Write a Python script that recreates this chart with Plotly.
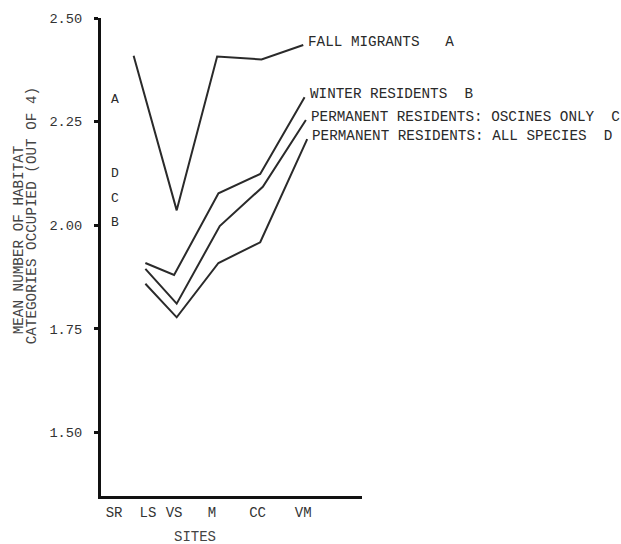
import plotly.graph_objects as go

# Sites along the gradient and their positions on the site axis
sites = ["SR", "LS", "VS", "M", "CC", "VM"]
site_pos = [5, 18, 28, 42.5, 60, 77.5]

# Mean number of habitat categories occupied (out of 4), per group
fall_x = [12.5, 29, 44.5, 61.5, 77.5]
fall_y = [2.409, 2.036, 2.407, 2.400, 2.435]

winter_x = [17, 28, 45, 61, 78]
winter_y = [1.909, 1.880, 2.077, 2.124, 2.309]

oscines_x = [17, 29, 45.5, 62, 78.5]
oscines_y = [1.895, 1.811, 1.998, 2.093, 2.254]

allsp_x = [17, 29, 45, 61, 79]
allsp_y = [1.859, 1.778, 1.909, 1.959, 2.208]

series_names = [
    "FALL MIGRANTS   A",
    "WINTER RESIDENTS  B",
    "PERMANENT RESIDENTS: OSCINES ONLY  C",
    "PERMANENT RESIDENTS: ALL SPECIES  D",
]

# Group means at SR, marked by letter beside the y axis
sr_letters = ["A", "D", "C", "B"]
sr_values = [2.299, 2.120, 2.060, 2.002]

y_ticks = [1.50, 1.75, 2.00, 2.25, 2.50]
y_ticktext = ["1.50", "1.75", "2.00", "2.25", "2.50"]

FONT = "Liberation Mono, Courier New, monospace"
INK = "#2a2a2a"

fig = go.Figure()
all_series = [
    (fall_x, fall_y),
    (winter_x, winter_y),
    (oscines_x, oscines_y),
    (allsp_x, allsp_y),
]
for (xs, ys), name in zip(all_series, series_names):
    fig.add_trace(go.Scatter(
        x=xs, y=ys, mode="lines", name=name,
        line=dict(color=INK, width=2),
        showlegend=False, hoverinfo="skip",
    ))

annotations = []
# Series labels at the end of each line
for (xs, ys), name in zip(all_series, series_names):
    annotations.append(dict(
        x=xs[-1], y=ys[-1], xref="x", yref="y", text=name,
        showarrow=False, xanchor="left", yanchor="middle",
        xshift=3, yshift=3,
        font=dict(family=FONT, size=14.3, color=INK),
    ))

# Letters beside the y axis
for letter, val in zip(sr_letters, sr_values):
    annotations.append(dict(
        x=5.4, y=val, xref="x", yref="y", text=letter,
        showarrow=False, xanchor="center", yanchor="middle", yshift=2,
        font=dict(family=FONT, size=13, color=INK),
    ))

# Two-line y-axis title
annotations.append(dict(
    x=-0.314, y=0.535, xref="paper", yref="paper",
    text="MEAN NUMBER OF HABITAT", textangle=-90, showarrow=False,
    xanchor="center", yanchor="middle",
    font=dict(family=FONT, size=14.3, color="#444"),
))
annotations.append(dict(
    x=-0.261, y=0.587, xref="paper", yref="paper",
    text="CATEGORIES OCCUPIED (OUT OF 4)", textangle=-90, showarrow=False,
    xanchor="center", yanchor="middle",
    font=dict(family=FONT, size=14.3, color="#444"),
))

# x-axis title
annotations.append(dict(
    x=0.36, y=-0.085, xref="paper", yref="paper", text="SITES",
    showarrow=False, xanchor="center", yanchor="middle",
    font=dict(family=FONT, size=14, color="#444"),
))

fig.update_layout(
    width=621, height=544,
    margin=dict(l=101, r=259, t=14, b=48, pad=0),
    paper_bgcolor="white", plot_bgcolor="white",
    annotations=annotations,
    xaxis=dict(
        range=[0, 100], showgrid=False, zeroline=False,
        showline=True, linecolor="#111", linewidth=3,
        tickmode="array", tickvals=site_pos, ticktext=sites,
        ticks="", ticklabelstandoff=1,
        tickfont=dict(family=FONT, size=14, color="#333"),
    ),
    yaxis=dict(
        range=[1.347, 2.50], showgrid=False, zeroline=False,
        showline=True, linecolor="#111", linewidth=3,
        tickmode="array", tickvals=y_ticks, ticktext=y_ticktext,
        ticks="outside", ticklen=4, tickwidth=3, tickcolor="#111",
        ticklabelstandoff=9,
        tickfont=dict(family=FONT, size=13.7, color="#333"),
    ),
)

fig.write_html("out.html")
